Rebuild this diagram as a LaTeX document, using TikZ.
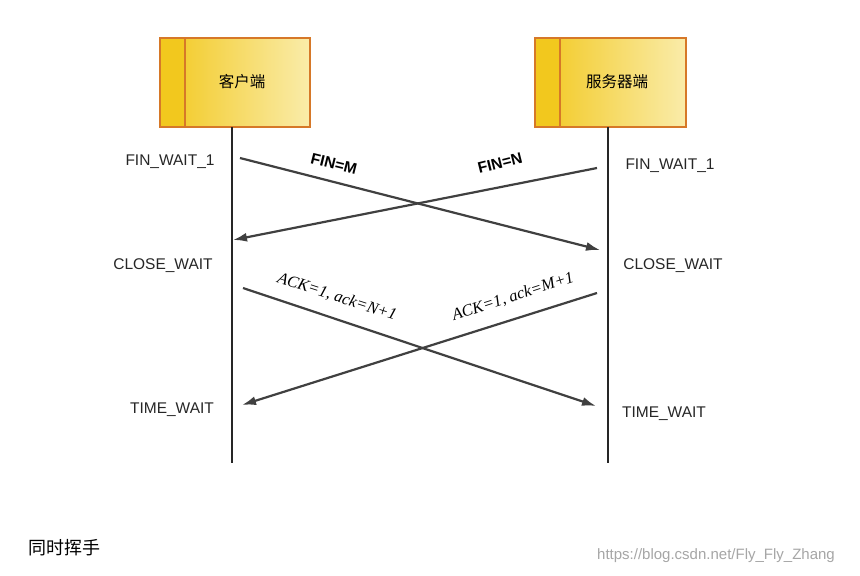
\documentclass[tikz,border=0pt]{standalone}
\usepackage{fontspec}
\setmainfont{Liberation Sans}
\newfontfamily\cjk{Noto Sans CJK SC}
\newfontfamily\ackfont{Liberation Serif}
\usetikzlibrary{arrows.meta}
\definecolor{boxedge}{RGB}{214,120,40}
\definecolor{boxdark}{RGB}{242,200,30}
\definecolor{boxlight}{RGB}{250,236,170}
\definecolor{msgline}{RGB}{64,64,64}
\tikzset{
  hostbox/.style={draw=boxedge, line width=1.8pt, left color=boxdark, right color=boxlight},
  stripe/.style={draw=boxedge, line width=1.8pt, fill=boxdark},
  lifeline/.style={line width=1.6pt, black!85},
  msg/.style={line width=2.2pt, msgline, -{Latex[length=14pt,width=9pt]}},
  state/.style={font=\fontsize{15.5}{18}\selectfont, text=black!85},
}
\begin{document}
\begin{tikzpicture}[x=1pt,y=-1pt]
\useasboundingbox[fill=white] (0,0) rectangle (860,576);

% Client box
\draw[hostbox] (160,38) rectangle (310,127);
\draw[stripe] (160,38) rectangle (185,127);
\node[font=\cjk\fontsize{15.5}{18}\selectfont] (client) at (242,82) {客户端};

% Server box
\draw[hostbox] (535,38) rectangle (686,127);
\draw[stripe] (535,38) rectangle (560,127);
\node[font=\cjk\fontsize{15.5}{18}\selectfont] (server) at (617,82) {服务器端};

% Lifelines
\coordinate (ctop) at (232,127);
\coordinate (cbot) at (232,463);
\coordinate (stop) at (608,127);
\coordinate (sbot) at (608,463);
\draw[lifeline] (ctop) -- (cbot);
\draw[lifeline] (stop) -- (sbot);

% States
\node[state] (cfin) at (170,162) {FIN\_WAIT\_1};
\node[state] (sfin) at (670,166) {FIN\_WAIT\_1};
\node[state] (cclose) at (163,266) {CLOSE\_WAIT};
\node[state] (sclose) at (673,266) {CLOSE\_WAIT};
\node[state] (ctime) at (172,410) {TIME\_WAIT};
\node[state] (stime) at (664,414) {TIME\_WAIT};

% FIN messages
\coordinate (finm1) at (240,158);
\coordinate (finm2) at (600,250);
\coordinate (finn1) at (597,168);
\coordinate (finn2) at (233,240);
\draw[msg] (finm1) -- (finm2);
\draw[msg] (finn1) -- (finn2);
\node[font=\bfseries\fontsize{15.5}{18}\selectfont, rotate=-14] (finmlab) at (334,164) {FIN=M};
\node[font=\bfseries\fontsize{15.5}{18}\selectfont, rotate=14] (finnlab) at (500,163) {FIN=N};

% ACK messages
\coordinate (ackn1) at (243,288);
\coordinate (ackn2) at (596,406);
\coordinate (ackm1) at (597,293);
\coordinate (ackm2) at (242,405);
\draw[msg] (ackn1) -- (ackn2);
\draw[msg] (ackm1) -- (ackm2);
\node[font=\ackfont\itshape\fontsize{16.5}{19}\selectfont, rotate=-18] (acknlab) at (337,297) {ACK=1, ack=N+1};
\node[font=\ackfont\itshape\fontsize{16.5}{19}\selectfont, rotate=18] (ackmlab) at (513,297) {ACK=1, ack=M+1};

% Caption and watermark
\node[font=\cjk\fontsize{18}{21}\selectfont] (caption) at (64,548) {同时挥手};
\node[font=\fontsize{15}{18}\selectfont, text=black!35] (mark) at (716,556) {https://blog.csdn.net/Fly\_Fly\_Zhang};
\end{tikzpicture}
\end{document}
